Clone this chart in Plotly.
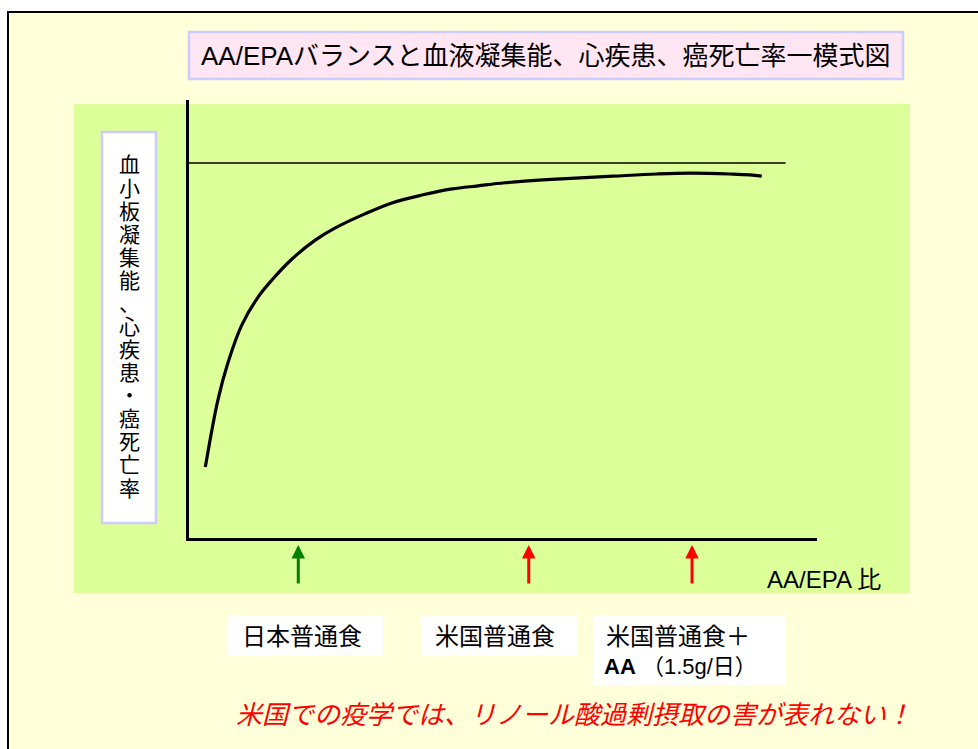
import plotly.graph_objects as go

W, H = 978, 749

# ---- data (AA/EPA ratio in arbitrary units, rate in arbitrary units 0-100) ----
curve_x = [0.26, 0.46, 0.62, 0.84, 1.10, 1.32, 1.64, 2.01, 2.33, 2.80, 3.23, 3.71,
           4.19, 4.60, 5.03, 5.70, 6.75, 7.45, 7.98, 8.62, 8.93, 9.12]
curve_y = [16.2, 31.5, 40.0, 48.6, 55.0, 58.9, 63.7, 68.0, 70.8, 74.0, 76.5, 78.3,
           79.7, 80.4, 81.1, 81.8, 82.6, 83.1, 83.3, 83.1, 82.9, 82.6]
ref_x = [0.0, 9.5]
ref_y = [85.6, 85.6]

diet_labels = ["日本普通食", "米国普通食", "米国普通食＋"]
diet_ratio = [1.74, 5.41, 8.01]
diet_colors = ["#008000", "#FF0000", "#FF0000"]

title_text = "AA/EPAバランスと血液凝集能、心疾患、癌死亡率一模式図"
ylabel_chars = list("血小板凝集能、心疾患・癌死亡率")
xlabel_text = "AA/EPA 比"
note_text = "米国での疫学では、リノール酸過剰摂取の害が表れない！"

FONT = "Liberation Sans, Arial, Noto Sans CJK JP, sans-serif"


def px(x):
    return x / W


def py(y):
    return 1 - y / H


fig = go.Figure()

fig.add_trace(go.Scatter(x=curve_x, y=curve_y, mode="lines",
                         line=dict(color="black", width=3.2, shape="spline", smoothing=1.0),
                         xaxis="x2", yaxis="y2", hoverinfo="skip", showlegend=False))
fig.add_trace(go.Scatter(x=ref_x, y=ref_y, mode="lines",
                         line=dict(color="black", width=1.5),
                         xaxis="x2", yaxis="y2", hoverinfo="skip", showlegend=False))

shapes = []


def rect(x0, y0, x1, y1, fill, line_color=None, lw=0):
    shapes.append(dict(type="rect", xref="paper", yref="paper",
                       x0=px(x0), x1=px(x1), y0=py(y1), y1=py(y0),
                       fillcolor=fill,
                       line=dict(color=line_color or fill, width=lw),
                       layer="below"))


rect(8, 12, 992, 765, "#FFFFDA", "black", 2)          # outer frame
rect(74, 104, 910, 593, "#DDFF99")                     # green panel
rect(189, 32, 903, 79, "#FFE6F2", "#CCCCFF", 2.5)      # title box
rect(102, 132, 156, 523, "white", "#CCCCFF", 2.5)      # y label box
rect(228, 615, 383, 655, "white")
rect(421, 615, 577, 655, "white")
rect(593, 615, 786, 685, "white")

annotations = []


def text(x, y, s, size, color="black", anchor="left", style="normal"):
    annotations.append(dict(xref="paper", yref="paper", x=px(x), y=py(y), text=s,
                            showarrow=False, xanchor=anchor, yanchor="middle",
                            font=dict(family=FONT, size=size, color=color, style=style)))


text(545, 56, title_text, 26, anchor="center")

y0c, y1c = 165, 488
n = len(ylabel_chars)
for i, ch in enumerate(ylabel_chars):
    text(129, y0c + (y1c - y0c) * i / (n - 1), ch, 21, anchor="center")

text(765, 579, xlabel_text, 24)

label_x = [240, 433, 604]
for lx, lab in zip(label_x, diet_labels):
    text(lx, 636, lab, 24)
text(602, 666, "<b>AA</b> （1.5g/日）", 22)

text(234, 715, note_text, 26, color="#FF0000", style="italic")

for xr, col in zip(diet_ratio, diet_colors):
    annotations.append(dict(xref="x2", yref="paper", x=xr, y=py(545), text="",
                            showarrow=True, ax=0, ay=40, arrowhead=2, arrowsize=0.9,
                            arrowwidth=3, arrowcolor=col))

fig.update_layout(
    width=W, height=H, margin=dict(l=0, r=0, t=0, b=0),
    paper_bgcolor="white", plot_bgcolor="rgba(0,0,0,0)",
    shapes=shapes, annotations=annotations, showlegend=False,
    xaxis2=dict(domain=[px(189), px(817)], range=[0, 10], anchor="y2",
                showline=True, linecolor="black", linewidth=3,
                showgrid=False, zeroline=False, showticklabels=False, ticks="",
                fixedrange=True),
    yaxis2=dict(domain=[py(538), py(100)], range=[0, 100], anchor="x2",
                showline=True, linecolor="black", linewidth=3,
                showgrid=False, zeroline=False, showticklabels=False, ticks="",
                fixedrange=True),
)

fig.write_html("out.html")
